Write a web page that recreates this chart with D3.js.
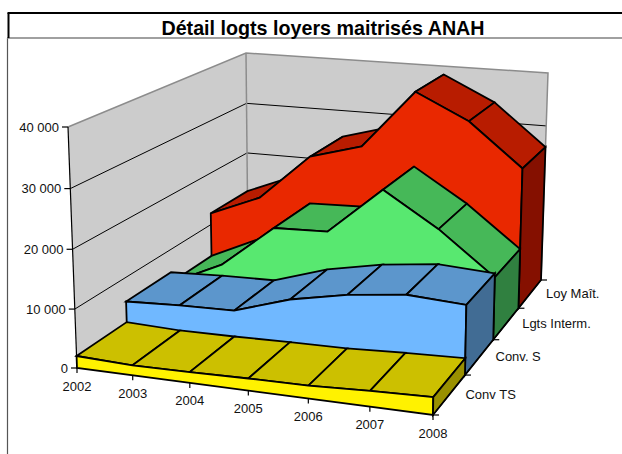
<!DOCTYPE html>
<html>
<head>
<meta charset="utf-8">
<script src="https://cdn.jsdelivr.net/npm/d3@7"></script>
<style>
  html, body { margin: 0; padding: 0; background: #fff; }
  text { font-family: "Liberation Sans", Arial, sans-serif; fill: #111; }
</style>
</head>
<body>
<div id="chart"></div>
<script>
var years = [2002, 2003, 2004, 2005, 2006, 2007, 2008];
var seriesNames = ["Conv TS", "Conv. S", "Lgts Interm.", "Loy Maît."];
var yTicks = [0, 10000, 20000, 30000, 40000];
var convTS = [2050, 1700, 1800, 2000, 2100, 2550, 2850];
var convS = [5750, 6150, 6350, 9400, 11300, 12400, 11800];
var lgtsInterm = [3800, 8200, 15950, 16250, 24650, 18600, 11100];
var loyMait = [12200, 16150, 24850, 27600, 38400, 33750, 25950];
var seriesValues = [convTS, convS, lgtsInterm, loyMait];
// front, top, side
var seriesColors = [
  ["#fff200", "#ccc000", "#999000"],
  ["#70b8ff", "#5c96cc", "#416c94"],
  ["#58e870", "#46b858", "#308040"],
  ["#e92800", "#b81c00", "#851000"]
];

var w = 622, h = 454;
var svg = d3.select("#chart").append("svg")
  .attr("width", w)
  .attr("height", h)
  .style("display", "block");

// screen corners of the box, order: front left, front right, back right, back left
var floorQuad = [[77, 368], [433, 415], [541, 280], [248, 250]];
var ceilQuad = [[68, 127], [437, 157], [548, 73], [246, 53]];
var foreshorten = 1.03; // the top of the box is a bit nearer than the floor

// maps the unit square on a quad
function homography(q) {
  var dx1 = q[1][0] - q[2][0], dx2 = q[3][0] - q[2][0], sx = q[0][0] - q[1][0] + q[2][0] - q[3][0];
  var dy1 = q[1][1] - q[2][1], dy2 = q[3][1] - q[2][1], sy = q[0][1] - q[1][1] + q[2][1] - q[3][1];
  var det = dx1 * dy2 - dx2 * dy1;
  var g = (sx * dy2 - dx2 * sy) / det;
  var k = (dx1 * sy - sx * dy1) / det;
  var a = q[1][0] - q[0][0] + g * q[1][0], b = q[3][0] - q[0][0] + k * q[3][0];
  var d = q[1][1] - q[0][1] + g * q[1][1], e = q[3][1] - q[0][1] + k * q[3][1];
  return function(u, v) {
    var den = g * u + k * v + 1;
    return [(a * u + b * v + q[0][0]) / den, (d * u + e * v + q[0][1]) / den];
  };
}
var floorMap = homography(floorQuad);
var ceilMap = homography(ceilQuad);

var xScale = d3.scaleLinear().domain([0, years.length - 1]).range([0, 1]);
var zScale = d3.scaleLinear().domain([0, seriesNames.length]).range([0, 1]);
var vScale = d3.scaleLinear().domain([0, 40000]).range([0, 1]);

function project(i, z, value) {
  var a = floorMap(xScale(i), zScale(z));
  var b = ceilMap(xScale(i), zScale(z));
  var t = vScale(value);
  t = t / (t + (1 - t) * foreshorten);
  return [a[0] + (b[0] - a[0]) * t, a[1] + (b[1] - a[1]) * t];
}
var line = d3.line();
var last = years.length - 1;
var depth = seriesNames.length;

function poly(points, fill, stroke, sw) {
  return svg.append("path")
    .attr("d", line(points) + "Z")
    .attr("fill", fill)
    .attr("stroke", stroke)
    .attr("stroke-width", sw)
    .attr("stroke-linejoin", "miter");
}
function seg(p, q, stroke, sw) {
  svg.append("path")
    .attr("d", line([p, q]))
    .attr("stroke", stroke)
    .attr("stroke-width", sw)
    .attr("fill", "none");
}

// frame
seg([7.5, 38], [7.5, h], "#555", 1.2);
seg([7, 38], [w, 38], "#808080", 1.5);
seg([8.5, 13], [8.5, 38], "#000", 2);
seg([7.5, 13], [w, 13], "#000", 2);

// walls
poly([project(0, 0, 0), project(0, depth, 0), project(0, depth, 40000), project(0, 0, 40000)], "#cccccc", "none", 0);
poly([project(0, depth, 0), project(last, depth, 0), project(last, depth, 40000), project(0, depth, 40000)], "#cccccc", "none", 0);
yTicks.slice(1, 4).forEach(function(v) {
  svg.append("path")
    .attr("d", line([project(0, 0, v), project(0, depth, v), project(last, depth, v)]))
    .attr("fill", "none")
    .attr("stroke", "#000")
    .attr("stroke-width", 1);
});
svg.append("path")
  .attr("d", line([project(0, 0, 40000), project(0, depth, 40000), project(last, depth, 40000), project(last, depth, 0)]))
  .attr("fill", "none")
  .attr("stroke", "#8c8c8c")
  .attr("stroke-width", 1.5);
seg(project(0, depth, 40000), project(0, depth, 0), "#8c8c8c", 1.5);
seg(project(0, 0, 40000), project(0, 0, 0), "#000", 1.2);

// ribbons, from back to front
d3.range(depth - 1, -1, -1).forEach(function(s) {
  var vals = seriesValues[s];
  var colors = seriesColors[s];
  d3.range(0, last).forEach(function(i) {
    poly([project(i, s, vals[i]), project(i + 1, s, vals[i + 1]), project(i + 1, s + 1, vals[i + 1]), project(i, s + 1, vals[i])], colors[1], "#000", 1.8);
  });
  var front = vals.map(function(v, i) { return project(i, s, v); });
  front.push(project(last, s, 0), project(0, s, 0));
  poly(front, colors[0], "#000", 1.8);
  poly([project(last, s, vals[last]), project(last, s + 1, vals[last]), project(last, s + 1, 0), project(last, s, 0)], colors[2], "#000", 1.8);
});

// value axis
yTicks.forEach(function(v) {
  var p = project(0, 0, v);
  seg([p[0] - 6, p[1]], p, "#000", 1.2);
  svg.append("text")
    .attr("x", p[0] - 9)
    .attr("y", p[1])
    .attr("dy", "0.35em")
    .attr("text-anchor", "end")
    .attr("font-size", 13)
    .text(d3.format(",")(v).replace(/,/g, " "));
});

// year axis
years.forEach(function(y, i) {
  var p = project(i, 0, 0);
  seg(p, [p[0], p[1] + 5], "#000", 1.2);
  svg.append("text")
    .attr("x", p[0])
    .attr("y", p[1] + 18)
    .attr("dy", "0.35em")
    .attr("text-anchor", "middle")
    .attr("font-size", 13)
    .text(y);
});

// depth axis
d3.range(0, depth + 1).forEach(function(z) {
  var p = project(last, z, 0);
  seg(p, [p[0] + 6, p[1]], "#000", 1.2);
});
seg(project(last, 0, 0), project(last, depth, 0), "#000", 1.2);
seriesNames.forEach(function(name, z) {
  var p = project(last, z + 0.5, 0);
  svg.append("text")
    .attr("x", p[0] + 16)
    .attr("y", p[1])
    .attr("dy", "0.35em")
    .attr("font-size", 13)
    .text(name);
});

svg.append("text")
  .attr("x", 323)
  .attr("y", 34.5)
  .attr("text-anchor", "middle")
  .attr("font-size", 19.7)
  .attr("font-weight", "bold")
  .style("fill", "#000")
  .text("Détail logts loyers maitrisés ANAH");
</script>
</body>
</html>
